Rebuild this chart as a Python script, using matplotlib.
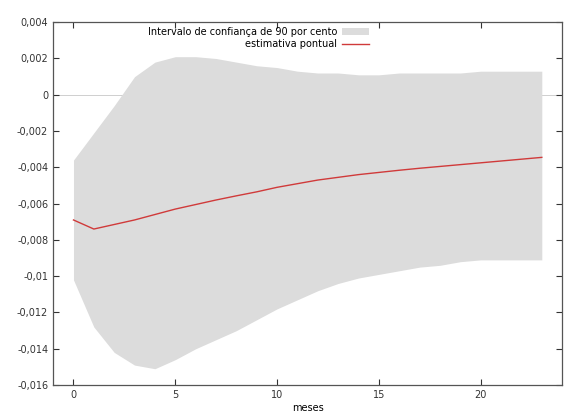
import matplotlib
matplotlib.use("Agg")
import matplotlib.pyplot as plt
from matplotlib.ticker import FuncFormatter
import numpy as np

meses = list(range(24))
superior = [-0.0036, -0.0021, -0.0006, 0.0010, 0.0018, 0.0021, 0.0021, 0.0020,
            0.0018, 0.0016, 0.0015, 0.0013, 0.0012, 0.0012, 0.0011, 0.0011,
            0.0012, 0.0012, 0.0012, 0.0012, 0.0013, 0.0013, 0.0013, 0.0013]
inferior = [-0.0102, -0.0128, -0.0142, -0.0149, -0.0151, -0.0146, -0.0140, -0.0135,
            -0.0130, -0.0124, -0.0118, -0.0113, -0.0108, -0.0104, -0.0101, -0.0099,
            -0.0097, -0.0095, -0.0094, -0.0092, -0.0091, -0.0091, -0.0091, -0.0091]
pontual = [-0.0069, -0.0074, -0.00715, -0.0069, -0.0066, -0.0063, -0.00605, -0.0058,
           -0.00557, -0.00535, -0.0051, -0.0049, -0.0047, -0.00455, -0.0044, -0.00428,
           -0.00416, -0.00405, -0.00395, -0.00385, -0.00375, -0.00365, -0.00355, -0.00345]

plt.rcParams.update({
    'font.size': 7,
    'xtick.labelsize': 7,
    'ytick.labelsize': 7,
    'axes.labelsize': 7,
})

fig = plt.figure(figsize=(5.65, 4.19), dpi=100)
ax = fig.add_axes([0.094, 0.081, 0.901, 0.866])

ax.fill_between(meses, inferior, superior, color='#dcdcdc', linewidth=0,
                label='Intervalo de confiança de 90 por cento')
ax.plot(meses, pontual, color='#d03a3a', linewidth=1.0, label='estimativa pontual')
ax.axhline(0, color='#c8c8c8', linewidth=0.6, zorder=0.5)

ax.set_xlim(-1, 24)
ax.set_ylim(-0.016, 0.004)
ax.set_xticks([0, 5, 10, 15, 20])
ax.set_yticks(np.arange(-0.016, 0.0041, 0.002))


def virgula(v, pos):
    if abs(v) < 1e-12:
        return '0'
    return ('%g' % round(v, 4)).replace('.', ',')


ax.yaxis.set_major_formatter(FuncFormatter(virgula))
ax.tick_params(direction='in', top=True, right=True, length=4, width=0.8,
               colors='#333333', labelcolor='#333333')
for s in ax.spines.values():
    s.set_color('#555555')
    s.set_linewidth(0.9)
ax.set_xlabel('meses', labelpad=2)

fig.legend(loc='upper right', bbox_to_anchor=(0.66, 0.945), frameon=False,
           markerfirst=False, handlelength=2.8, labelspacing=0.25,
           borderaxespad=0, handletextpad=0.5)

fig.savefig('out.png', dpi=100)
